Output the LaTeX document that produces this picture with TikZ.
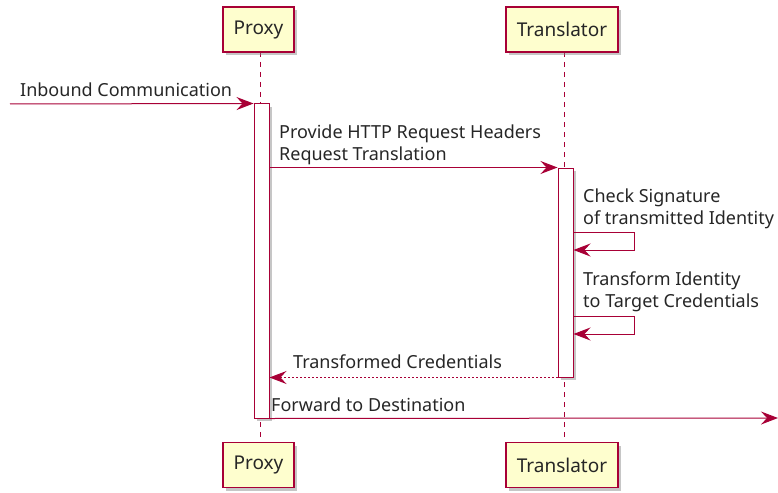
\documentclass[tikz,border=0pt]{standalone}
\usepackage{fontspec}
\setmainfont{Noto Sans}
\usetikzlibrary{arrows.meta,shadows}
\definecolor{umlred}{HTML}{A80036}
\definecolor{umlfill}{HTML}{FEFECE}
\tikzset{x=1pt, y=-1pt,
  every node/.style={font=\fontsize{18}{22}\selectfont, text=black!85},
  actor/.style={draw=umlred, fill=umlfill, line width=1.5pt, minimum height=45pt, inner sep=0pt,
    font=\fontsize{19}{22}\selectfont,
    drop shadow={shadow xshift=3pt, shadow yshift=-3pt, opacity=0.45}},
  actbar/.style={draw=umlred, fill=white, line width=1pt, minimum width=15pt, inner sep=0pt,
    drop shadow={shadow xshift=3pt, shadow yshift=-3pt, opacity=0.45}},
  life/.style={umlred, line width=1pt, dash pattern=on 5pt off 5pt},
  msg/.style={umlred, line width=1pt, -{Stealth[length=17pt, width=13pt, inset=6pt]}},
  reply/.style={msg, dash pattern=on 2pt off 2pt},
  lbl/.style={anchor=base west, inner sep=0pt, align=left}}

\begin{document}
\begin{tikzpicture}
  \useasboundingbox (0,0) rectangle (778,492);
  % lifelines
  \draw[life] (260,52) -- (260,443);
  \draw[life] (564,52) -- (564,443);
  % participants
  \node[actor, minimum width=71pt] (proxyTop) at (258.5,29.5) {Proxy};
  \node[actor, minimum width=112pt] (transTop) at (562,29.5) {Translator};
  \node[actor, minimum width=71pt] (proxyBot) at (258.5,465) {Proxy};
  \node[actor, minimum width=112pt] (transBot) at (562,465) {Translator};
  % activations
  \node[actbar, minimum height=314pt] (pact) at (261.5,261) {};
  \node[actbar, minimum height=209pt] (tact) at (565.5,272.5) {};
  \coordinate (src) at (10,104);
  \coordinate (dst) at (778,418);
  \coordinate (loopA) at (634,232);
  \coordinate (loopB) at (634,316);
  % messages
  \draw[msg] (src) -- (pact.north west);
  \node[lbl] (lblIn) at (20,96) {Inbound Communication};
  \draw[msg] (pact.east |- tact.north) -- (tact.north west);
  \node[lbl] (lblReq) at (279,160) {Provide HTTP Request Headers\\Request Translation};
  \draw[msg] (tact.east |- loopA) -- (loopA) -- ++(0,18) -- (tact.east |- 0,250);
  \node[lbl] (lblSig) at (583,224) {Check Signature\\of transmitted Identity};
  \draw[msg] (tact.east |- loopB) -- (loopB) -- ++(0,18) -- (tact.east |- 0,334);
  \node[lbl] (lblTrf) at (583,307) {Transform Identity\\to Target Credentials};
  \draw[reply] (tact.south west) -- (pact.east |- tact.south);
  \node[lbl] (lblCred) at (293,368) {Transformed Credentials};
  \draw[msg] (pact.south east) -- (dst);
  \node[lbl] (lblFwd) at (271,411) {Forward to Destination};
\end{tikzpicture}
\end{document}
